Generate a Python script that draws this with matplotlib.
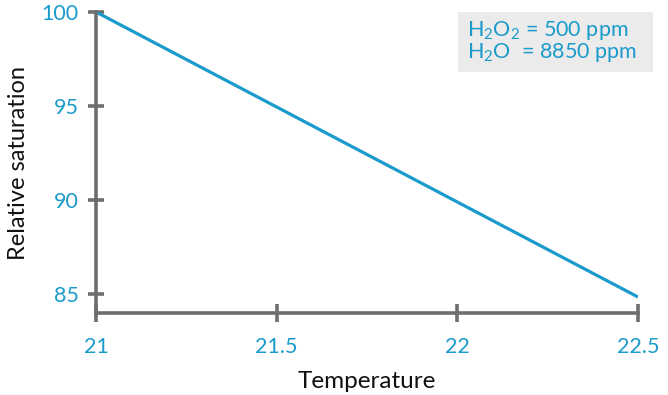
import matplotlib
matplotlib.use("Agg")
import matplotlib.pyplot as plt
from matplotlib.patches import Rectangle

temperature = [21, 21.5, 22, 22.5]
saturation = [100, 94.95, 89.9, 84.85]
xticks = [21, 21.5, 22, 22.5]
xtick_labels = ["21", "21.5", "22", "22.5"]
yticks = [85, 90, 95, 100]
ytick_labels = ["85", "90", "95", "100"]

blue = "#1a9bcb"
gray = "#6e6e6e"

plt.rcParams['font.family'] = ['Lato', 'DejaVu Sans']
plt.rcParams['mathtext.fontset'] = 'custom'
plt.rcParams['mathtext.rm'] = 'Lato'
plt.rcParams['mathtext.it'] = 'Lato'

fig = plt.figure(figsize=(6.68, 3.95), dpi=100)
ax = fig.add_axes([96/668, 1-313/395, (638-96)/668, (313-12)/395])

ax.plot(temperature, saturation, color=blue, lw=2.3, solid_capstyle='butt')
ax.set_xlim(21, 22.5)
ax.set_ylim(84, 100)
ax.set_xticks(xticks)
ax.set_xticklabels(xtick_labels)
ax.set_yticks(yticks)
ax.set_yticklabels(ytick_labels)

for s in ['top', 'right']:
    ax.spines[s].set_visible(False)
for s in ['left', 'bottom']:
    ax.spines[s].set_color(gray)
    ax.spines[s].set_linewidth(2.6)
ax.spines['left'].set_bounds(84, 100)

ax.tick_params(axis='x', direction='inout', length=13, width=2.6, color=gray,
               labelcolor=blue, labelsize=15.5, pad=11)
ax.tick_params(axis='y', direction='inout', length=11, width=2.6, color=gray,
               labelcolor=blue, labelsize=15.5, pad=7)

ax.set_xlabel("Temperature", fontsize=17.5, color="#111111", labelpad=10)
ax.set_ylabel("Relative saturation", fontsize=17, color="#111111", labelpad=9)

fig.patches.append(Rectangle((458/668, 1-72/395), (653-458)/668, (72-12)/395,
                             transform=fig.transFigure, facecolor="#ebebeb",
                             edgecolor='none', zorder=0))
fig.text(467/668, 1-30/395, "H$_2$O$_2$ = 500 ppm", color=blue, fontsize=15.5,
         va='center', ha='left')
fig.text(467/668, 1-53/395, "H$_2$O  = 8850 ppm", color=blue, fontsize=15.5,
         va='center', ha='left')

fig.savefig("out.png", dpi=100)
